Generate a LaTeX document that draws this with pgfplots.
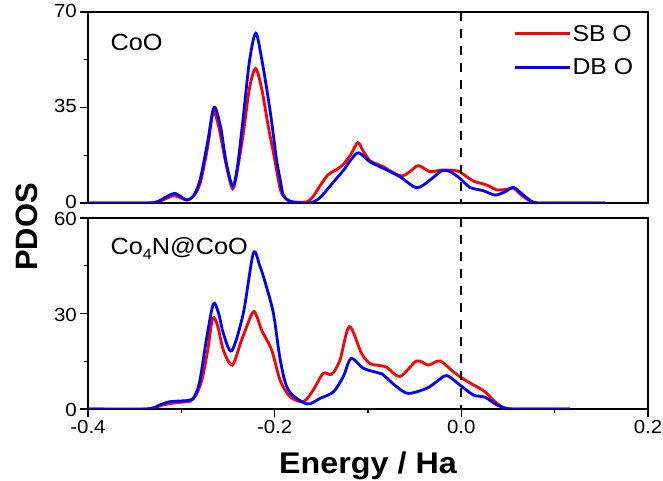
\documentclass[border=0pt]{standalone}
\usepackage{fontspec}
\setmainfont{Liberation Sans}[FakeStretch=1.08]
\newfontfamily\plainsans{Liberation Sans}
\usepackage{pgfplots}
\usepackage{pgfplotstable}
\pgfplotsset{compat=1.18}

\pgfplotstableread{
x y
-0.400 0
-0.340 0
-0.325 0.5
-0.315 1.8
-0.308 2.7
-0.300 1.8
-0.294 1.1
-0.287 2.5
-0.280 7
-0.272 20
-0.266 33.2
-0.260 28
-0.252 14
-0.245 5.2
-0.240 12
-0.2336 25.5
-0.227 42
-0.2205 49.3
-0.214 42
-0.2068 28
-0.200 16
-0.196 8.4
-0.1925 3.5
-0.185 0.8
-0.175 0.3
-0.165 0.5
-0.159 2.3
-0.152 6
-0.143 10.3
-0.135 12
-0.127 13.9
-0.118 18
-0.111 22.1
-0.105 19
-0.098 15.5
-0.090 14.2
-0.0836 13.3
-0.075 11.5
-0.0639 9.9
-0.055 11.5
-0.046 13.7
-0.0336 11.5
-0.021 12.1
-0.010 12.0
-0.002 11.5
0.005 9.8
0.0146 7.8
0.0236 7.0
0.031 6.0
0.038 4.8
0.0486 5.0
0.056 5.4
0.0664 2.3
0.077 0.3
0.090 0
0.154 0
}\topSB

\pgfplotstableread{
x y
-0.400 0
-0.335 0
-0.325 0.6
-0.319 1.7
-0.3075 3.5
-0.300 2.2
-0.294 1.1
-0.287 2.6
-0.280 8.4
-0.272 22
-0.265 35.0
-0.258 28
-0.252 15
-0.245 6.2
-0.240 13
-0.2336 31.6
-0.227 52
-0.2203 62.2
-0.214 53
-0.205 34.1
-0.198 16
-0.194 8.4
-0.1907 2.9
-0.184 0.7
-0.175 0.1
-0.162 0
-0.152 1.8
-0.144 4.8
-0.135 8.5
-0.126 12.1
-0.118 16
-0.110 18.4
-0.098 15.1
-0.0836 12.7
-0.0657 9.6
-0.0478 5.6
-0.0336 8.4
-0.021 11.8
-0.0121 11.5
-0.0014 9.0
0.0093 5.7
0.0236 4.5
0.036 2.9
0.0468 4.1
0.056 5.7
0.0664 2.9
0.077 0.3
0.090 0
0.154 0
}\topDB

\pgfplotstableread{
x y
-0.400 0
-0.340 0
-0.330 0.4
-0.319 1.3
-0.310 1.8
-0.298 2.2
-0.290 2.5
-0.284 4.5
-0.278 9.1
-0.272 18
-0.2664 28.5
-0.261 26
-0.255 18.5
-0.2454 13.8
-0.2354 21.7
-0.2236 30.3
-0.219 29
-0.214 24.8
-0.2032 18.5
-0.1943 9.1
-0.1836 3.9
-0.1693 2.3
-0.1586 6.0
-0.148 11.2
-0.1389 10.9
-0.130 15.4
-0.120 25.9
-0.107 17.5
-0.098 14.3
-0.0907 13.8
-0.080 13.1
-0.0657 10.2
-0.0479 15.1
-0.0354 13.8
-0.0229 15.1
-0.0086 11.7
0.004 9.1
0.0164 7.0
0.0254 5.4
0.036 2.3
0.0468 0.2
0.060 0
0.1164 0
}\botSB

\pgfplotstableread{
x y
-0.400 0
-0.337 0
-0.323 1.3
-0.312 2.3
-0.2907 2.8
-0.285 4.5
-0.280 9.1
-0.273 22
-0.2657 33.0
-0.260 30
-0.255 23.8
-0.246 18.3
-0.2336 30.1
-0.2229 48.9
-0.216 45
-0.2104 40.0
-0.2014 30.1
-0.194 15.4
-0.1854 6.0
-0.1657 1.6
-0.151 3.4
-0.137 5.4
-0.1265 10.2
-0.118 15.9
-0.105 12.8
-0.0871 11.2
-0.0836 10.7
-0.0693 7.0
-0.0568 4.9
-0.0371 6.5
-0.0264 8.6
-0.0157 10.5
-0.0014 7.5
0.0129 4.4
0.0254 3.7
0.038 1.3
0.0486 0.2
0.060 0
0.1164 0
}\botDB

\pgfplotsset{
  pdos/.style={
    scale only axis, width=560bp, height=191bp,
    xmin=-0.4, xmax=0.2,
    tick align=outside, major tick length=8bp, minor tick length=4.5bp,
    axis line style={line width=1.3bp},
    every tick/.style={line width=1.3bp, black},
    ytick pos=left, xtick pos=bottom,
    ticklabel style={font=\fontsize{19}{21}\selectfont},
    yticklabel style={inner ysep=0pt, inner xsep=3bp},
    every axis plot/.append style={line width=2.8bp, smooth, tension=0.5},
  }
}

\begin{document}
\begin{tikzpicture}
\path[use as bounding box] (0,0) rectangle (663bp,481bp);
\begin{axis}[pdos,
  at={(88bp,278bp)}, anchor=south west,
  ymin=0, ymax=70,
  xtick=\empty, minor xtick={},
  ytick={0,35,70}, yticklabels={0,35,70}, minor ytick={17.5,52.5},
  yticklabel style={yshift=1.5bp},
  legend style={draw=none, fill=none, at={(rel axis cs:0.759,0.94)}, anchor=north west,
    font=\fontsize{23}{25}\selectfont, inner sep=0pt, row sep=13bp,
    nodes={inner sep=1.5bp}},
  legend cell align=left,
  legend image code/.code={\draw[#1, line width=2.8bp] (0bp,0bp) -- (55bp,0bp);},
]
\addplot[red] table {\topSB};
\addlegendentry{SB O}
\addplot[blue] table {\topDB};
\addlegendentry{DB O}
\addplot[black, line width=1.8bp, dash pattern=on 9bp off 8bp, sharp plot, forget plot] coordinates {(0,70) (0,0)};
\node[anchor=base west, font=\fontsize{23.5}{25}\selectfont] at (rel axis cs:0.034,0.801) {CoO};
\end{axis}
\begin{axis}[pdos,
  at={(88bp,72bp)}, anchor=south west,
  ymin=0, ymax=60,
  xtick={-0.4,-0.2,0,0.2}, xticklabels={-0.4,-0.2,0.0,0.2}, minor xtick={-0.3,-0.1,0.1},
  ytick={0,30,60}, yticklabels={0,30,60}, minor ytick={15,45},
  yticklabel style={yshift=-1bp},
]
\addplot[red] table {\botSB};
\addplot[blue] table {\botDB};
\addplot[black, line width=1.8bp, dash pattern=on 9bp off 8bp, sharp plot, forget plot] coordinates {(0,60) (0,0)};
\node[anchor=base west, font=\fontsize{23.5}{25}\selectfont] at (rel axis cs:0.034,0.8115) {Co\raisebox{-0.45ex}{\fontsize{15}{16}\selectfont 4}N@CoO};
\end{axis}
\node[anchor=base, font=\fontsize{30}{32}\selectfont\bfseries] at (368bp,8bp) {Energy / Ha};
\node[rotate=90, font=\plainsans\fontsize{31}{33}\selectfont\bfseries] at (27bp,254bp) {PDOS};
\end{tikzpicture}
\end{document}
